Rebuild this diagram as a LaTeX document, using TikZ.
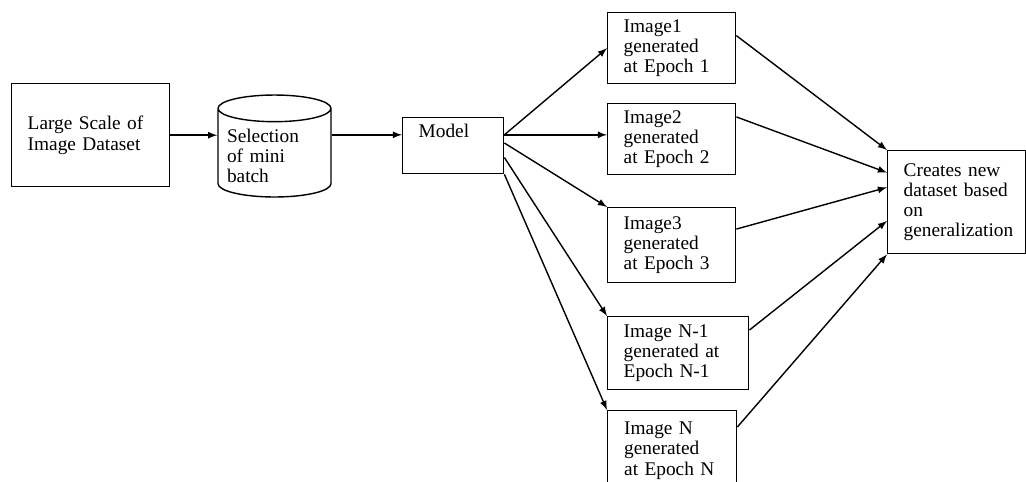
\documentclass[tikz,border=0pt]{standalone}
\usepackage{fontspec}
\setmainfont{Liberation Serif}
\usepackage{tikz}
\usetikzlibrary{arrows,shapes,positioning}
\usetikzlibrary{calc}

\begin{document}
\begin{tikzpicture}[x=0.02cm,y=-0.02cm,>=latex,
    every node/.style={font=\fontsize{11}{11.5}\selectfont},
    box/.style={draw, line width=0.8pt, anchor=north west, align=left, inner xsep=0.32cm},
    imgbox/.style={box, minimum width=2.56cm, text width=1.92cm},
    con/.style={->, line width=0.8pt}]
          \useasboundingbox (0,0) rectangle (1026,481);
          \node[box, minimum width=3.16cm, text width=2.52cm, minimum height=2.06cm] (data) at (11,83) {Large Scale of\\Image Dataset};
          \node[draw, line width=0.8pt, cylinder, shape border rotate=90, aspect=0.25, minimum width=2.26cm, minimum height=2.04cm, anchor=shape center, align=left, text width=1.9cm] (batch) at (274.5,146) {Selection\\of mini\\batch};
          \node[box, minimum width=2.02cm, text width=1.38cm, minimum height=1.12cm, text depth=0.6cm] (model) at (402,117) {Model};
          \node[imgbox, minimum height=1.42cm] (img1) at (607,12) {Image1\\generated\\at Epoch 1};
          \node[imgbox, minimum height=1.42cm] (img2) at (607,103) {Image2\\generated\\at Epoch 2};
          \node[imgbox, minimum height=1.5cm] (img3) at (607,207) {Image3\\generated\\at Epoch 3};
          \node[box, minimum width=2.82cm, text width=2.18cm, minimum height=1.46cm] (img4) at (607,316) {Image N-1\\generated at\\Epoch N-1};
          \node[imgbox, minimum width=2.58cm, minimum height=1.6cm] (img5) at (607,410) {Image N\\generated\\at Epoch N};
          \node[box, minimum width=2.76cm, text width=2.12cm, minimum height=2.06cm] (out) at (887,150) {Creates new\\dataset based\\on\\generalization};
          % left part
          \draw[con] (data.east) -- (data.east -| batch.west);
          \draw[con] (model.168 -| batch.east) -- (model.168);
          % model to images
          \draw[con] (model.12) -- (img1.west);
          \draw[con] (model.12) -- (model.12 -| img2.west);
          \draw[con] (model.3) -- (img3.north west);
          \draw[con] (model.-13) -- (img4.north west);
          \draw[con] (model.south east) -- (img5.north west);
          % images to new dataset
          \draw[con] (img1.11) -- (out.north west);
          \draw[con] (img2.19) -- (out.157);
          \draw[con] (img3.14) -- (out.168);
          \draw[con] (img4.18) -- (out.195);
          \draw[con] (img5.20) -- (out.south west);
        \end{tikzpicture}
\end{document}
